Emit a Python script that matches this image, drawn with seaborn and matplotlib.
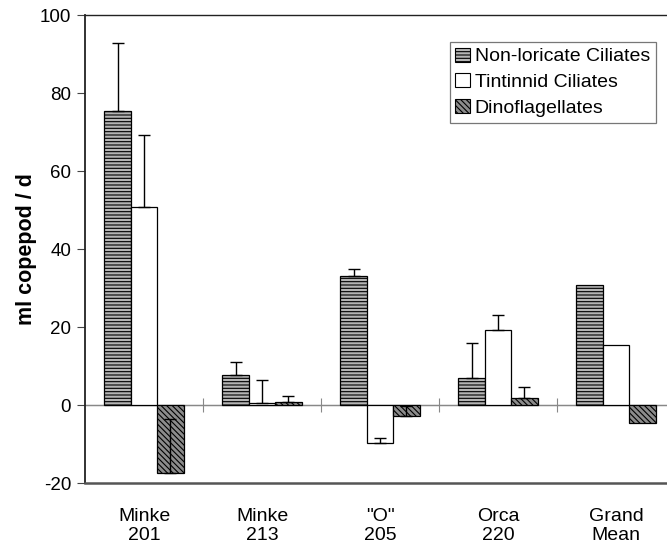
import numpy as np
import pandas as pd
import matplotlib
matplotlib.use("Agg")
import matplotlib.pyplot as plt
from matplotlib.patches import Patch
import seaborn as sns

categories = ["Minke\n201", "Minke\n213", "\"O\"\n205", "Orca\n220", "Grand\nMean"]
series = ["Non-loricate Ciliates", "Tintinnid Ciliates", "Dinoflagellates"]
non_loricate = [75.4, 7.7, 33.1, 6.8, 30.8]
tintinnid = [50.8, 0.6, -9.8, 19.2, 15.4]
dinoflag = [-17.4, 0.8, -2.8, 1.7, -4.5]
err_non_loricate = [17.4, 3.4, 1.7, 9.0, 0.0]
err_tintinnid = [18.4, 5.8, 1.4, 3.9, 0.0]
err_dinoflag = [13.8, 1.6, 2.6, 3.0, 0.0]
yticks = [-20, 0, 20, 40, 60, 80, 100]

values = [non_loricate, tintinnid, dinoflag]
errors = [err_non_loricate, err_tintinnid, err_dinoflag]
df = pd.DataFrame({
    "cat": [c for s in series for c in categories],
    "series": [s for s in series for c in categories],
    "val": [v for vals in values for v in vals],
})

sns.set_theme(style="white")
plt.rcParams["font.family"] = ["Liberation Sans", "DejaVu Sans"]
plt.rcParams["hatch.linewidth"] = 0.8
plt.rcParams["text.color"] = "black"
plt.rcParams["axes.labelcolor"] = "black"
plt.rcParams["xtick.color"] = "black"
plt.rcParams["ytick.color"] = "black"

fig = plt.figure(figsize=(6.67, 5.47), dpi=100)
ax = fig.add_axes([85 / 667, 64 / 547, 582 / 667, 468 / 547])

sns.barplot(data=df, x="cat", y="val", hue="series", order=categories,
            hue_order=series, width=0.67, gap=0, dodge=True, errorbar=None,
            palette=["#b4b4b4", "white", "#8c8c8c"], edgecolor="black",
            linewidth=0.9, legend=False, ax=ax, saturation=1)

styles = [
    dict(facecolor="#b4b4b4", hatch="-----"),
    dict(facecolor="white", hatch=None),
    dict(facecolor="#8c8c8c", hatch="\\\\\\\\\\\\"),
]
for cont, st, errs in zip(ax.containers, styles, errors):
    xs, ys, es = [], [], []
    for bar, e in zip(cont, errs):
        bar.set_facecolor(st["facecolor"])
        bar.set_edgecolor("black")
        if st["hatch"]:
            bar.set_hatch(st["hatch"])
        if e > 0:
            xs.append(bar.get_x() + bar.get_width() / 2)
            ys.append(bar.get_y() + bar.get_height())
            es.append(e)
    if xs:
        ax.errorbar(xs, ys, yerr=[np.zeros(len(es)), es], fmt="none",
                    ecolor="black", elinewidth=1.0, capsize=4, capthick=1.0,
                    zorder=5)

ax.set_ylim(-20, 100)
ax.set_xlim(-0.5, -0.5 + 5 * 582 / 590)
ax.set_yticks(yticks)
ax.set_yticklabels([str(t) for t in yticks], fontsize=13.5)
ax.set_xticks(range(len(categories)))
ax.set_xticklabels(categories, fontsize=14, linespacing=1.15)
ax.tick_params(axis="x", length=0, pad=18)
ax.tick_params(axis="y", direction="out", length=6, width=0.8, color="#444444",
               left=True, pad=4)
ax.set_xlabel("")
ax.set_ylabel("ml copepod / d", fontsize=15.5, fontweight="bold", labelpad=2)

for side in ["left", "top", "bottom"]:
    ax.spines[side].set_visible(True)
    ax.spines[side].set_color("#222222")
ax.spines["left"].set_linewidth(1.3)
ax.spines["top"].set_linewidth(1.0)
ax.spines["bottom"].set_linewidth(1.8)
ax.spines["bottom"].set_color("#555555")
ax.spines["right"].set_visible(False)

# zero line with category-boundary ticks
sec = ax.secondary_xaxis(1 / 6)
sec.set_xticks([0.5, 1.5, 2.5, 3.5])
sec.set_xticklabels([])
sec.tick_params(axis="x", direction="inout", length=10, width=0.8,
                color="#888888")
sec.spines["bottom"].set_color("#888888")
sec.spines["bottom"].set_linewidth(0.9)
sec.set_zorder(0)
ax.axhline(0, color="#888888", lw=0.9, zorder=0.5)

handles = [Patch(facecolor=st["facecolor"], edgecolor="black",
                 hatch=st["hatch"], linewidth=0.8) for st in styles]
leg = ax.legend(handles, series, loc="upper right",
                bbox_to_anchor=(0.981, 0.943), fontsize=14, frameon=True,
                fancybox=False, edgecolor="#555555", handlelength=0.75,
                handleheight=0.75, handletextpad=0.25, labelspacing=0.4,
                borderpad=0.3, borderaxespad=0)
leg.get_frame().set_linewidth(0.9)

fig.savefig("out.png", dpi=100)
